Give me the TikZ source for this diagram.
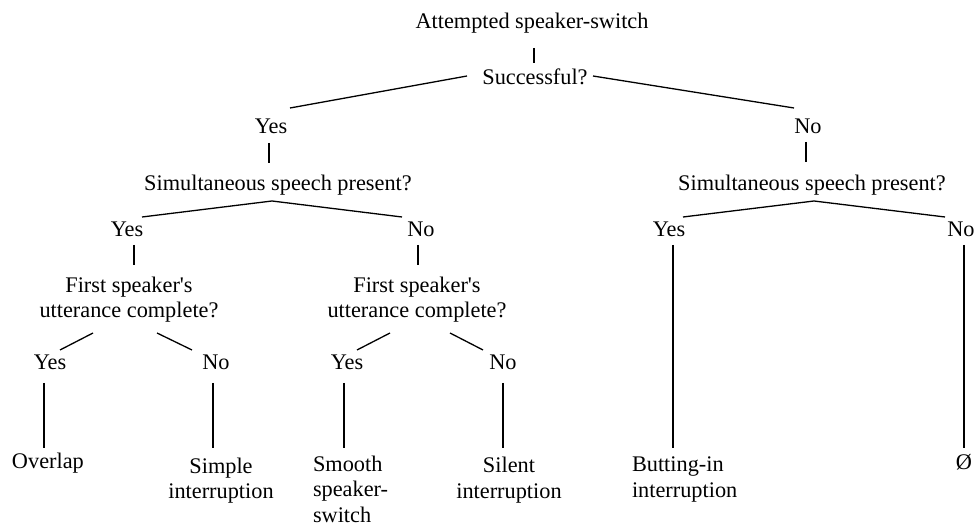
\documentclass[tikz,border=0pt]{standalone}
\usepackage{fontspec}
\setmainfont{Liberation Serif}
\usetikzlibrary{calc}
\begin{document}
\begin{tikzpicture}[x=1pt,y=1pt,
  lbl/.style={font=\fontsize{22.3}{25.5}\selectfont, inner sep=0pt, outer sep=0pt, anchor=base},
  lblw/.style={lbl, anchor=base west, align=left},
  lblc/.style={lbl, align=center},
  conn/.style={line width=1.3pt, line cap=butt}]
\useasboundingbox (0,0) rectangle (975,-526);
% nodes (multi-line nodes: base = baseline of last line)
\node[lbl] (top) at (532,-29) {Attempted speaker-switch};
\node[lbl] (succ) at (535,-85) {Successful?};
\node[lbl] (yes1) at (271,-134) {Yes};
\node[lbl] (no1) at (808,-134) {No};
\node[lbl] (sim1) at (278,-191) {Simultaneous speech present?};
\node[lbl] (sim2) at (812,-191) {Simultaneous speech present?};
\node[lbl] (yes2) at (127,-237) {Yes};
\node[lbl] (no2) at (421,-237) {No};
\node[lbl] (yes3) at (669,-237) {Yes};
\node[lbl] (no3) at (961,-237) {No};
\node[lblc] (first1) at (129,-318) {First speaker\textquotesingle s\\utterance complete?};
\node[lblc] (first2) at (417,-318) {First speaker\textquotesingle s\\utterance complete?};
\node[lbl] (yes4) at (50,-370) {Yes};
\node[lbl] (no4) at (216,-370) {No};
\node[lbl] (yes5) at (347,-370) {Yes};
\node[lbl] (no5) at (503,-370) {No};
\node[lblw] (overlap) at (12,-469) {Overlap};
\node[lblc] (simple) at (221,-499) {Simple\\interruption};
\node[lblw] (smooth) at (313,-522) {Smooth\\speaker-\\switch};
\node[lblc] (silent) at (509,-498) {Silent\\interruption};
\node[lblw] (butt) at (632,-497) {Butting-in\\interruption};
\node[lbl] (empty) at (964,-470) {Ø};
% connectors
\draw[conn] ($(top.base)+(2,-19)$) -- ($(succ.base)+(-1,22)$);
\draw[conn] ($(succ.base)+(-68,9)$) -- ($(yes1.base)+(19,26)$);
\draw[conn] ($(succ.base)+(58,9)$) -- ($(no1.base)+(-14,26)$);
\draw[conn] ($(yes1.base)+(-2,-9)$) -- ($(sim1.base)+(-9,28)$);
\draw[conn] ($(no1.base)+(-2,-8)$) -- ($(sim2.base)+(-6,29)$);
\draw[conn] ($(yes2.base)+(15,20)$) -- ($(sim1.base)+(-6,-10)$) -- ($(no2.base)+(-19,20)$);
\draw[conn] ($(yes3.base)+(14,20)$) -- ($(sim2.base)+(2,-10)$) -- ($(no3.base)+(-16,20)$);
\draw[conn] ($(yes2.base)+(7,-8)$) -- ($(first1.base)+(5,53)$);
\draw[conn] ($(no2.base)+(-3,-8)$) -- ($(first2.base)+(1,53)$);
\draw[conn] ($(yes3.base)+(4,-8)$) -- ($(butt.base west)+(41,49)$);
\draw[conn] ($(no3.base)+(3,-8)$) -- ($(empty.base)+(0,22)$);
\draw[conn] ($(first1.base)+(-36,-15)$) -- ($(yes4.base)+(10,20)$);
\draw[conn] ($(first1.base)+(28,-15)$) -- ($(no4.base)+(-24,20)$);
\draw[conn] ($(first2.base)+(-27,-15)$) -- ($(yes5.base)+(10,20)$);
\draw[conn] ($(first2.base)+(33,-15)$) -- ($(no5.base)+(-20,20)$);
\draw[conn] ($(yes4.base)+(-6,-13)$) -- ($(overlap.base west)+(32,21)$);
\draw[conn] ($(no4.base)+(-3,-13)$) -- ($(simple.base)+(-8,51)$);
\draw[conn] ($(yes5.base)+(-3,-13)$) -- ($(smooth.base west)+(31,74)$);
\draw[conn] ($(no5.base)+(0,-13)$) -- ($(silent.base)+(-6,50)$);
\end{tikzpicture}
\end{document}
